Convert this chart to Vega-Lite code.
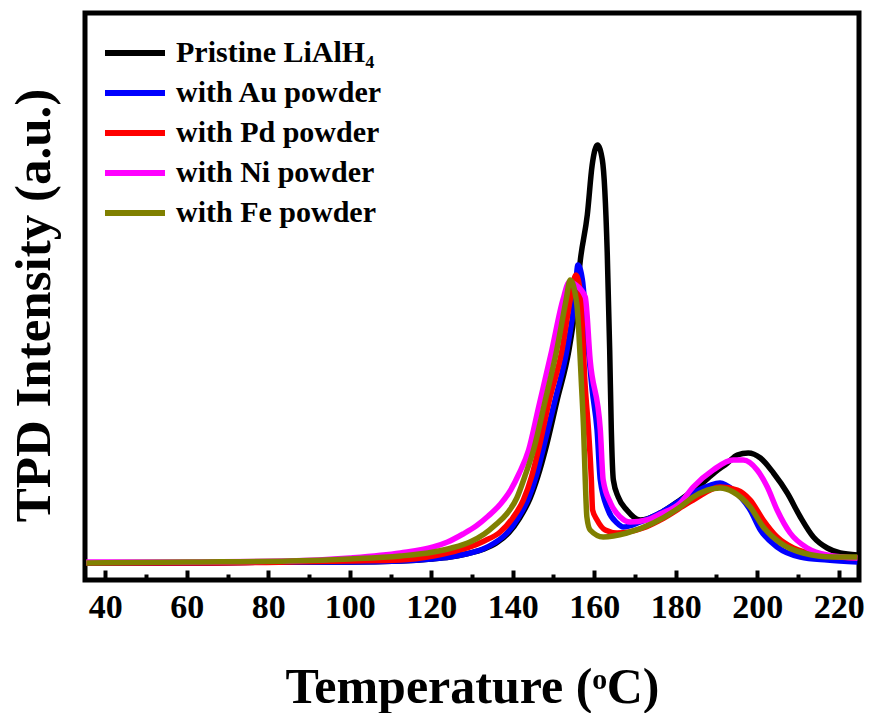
{
  "$schema": "https://vega.github.io/schema/vega-lite/v6.json",
  "width": 774,
  "height": 567,
  "autosize": {"type": "none"},
  "padding": {"left": 85, "top": 13, "right": 11, "bottom": 133},
  "background": "white",
  "config": {"view": {"stroke": "black", "strokeWidth": 5}, "font": "Liberation Serif"},
  "datasets": {
    "d": [
      {"s": "Pristine LiAlH₄", "T": 35.3, "I": 17}, {"s": "Pristine LiAlH₄", "T": 60, "I": 17}, {"s": "Pristine LiAlH₄", "T": 85, "I": 18}, {"s": "Pristine LiAlH₄", "T": 100, "I": 18}, {"s": "Pristine LiAlH₄", "T": 112.4, "I": 19}, {"s": "Pristine LiAlH₄", "T": 120, "I": 21}, {"s": "Pristine LiAlH₄", "T": 124.6, "I": 23}, {"s": "Pristine LiAlH₄", "T": 128.5, "I": 26}, {"s": "Pristine LiAlH₄", "T": 133, "I": 31}, {"s": "Pristine LiAlH₄", "T": 136, "I": 37}, {"s": "Pristine LiAlH₄", "T": 139, "I": 47}, {"s": "Pristine LiAlH₄", "T": 141.7, "I": 62}, {"s": "Pristine LiAlH₄", "T": 144.3, "I": 82}, {"s": "Pristine LiAlH₄", "T": 146.2, "I": 104}, {"s": "Pristine LiAlH₄", "T": 148, "I": 130}, {"s": "Pristine LiAlH₄", "T": 150.9, "I": 180}, {"s": "Pristine LiAlH₄", "T": 153.8, "I": 230}, {"s": "Pristine LiAlH₄", "T": 155.6, "I": 280}, {"s": "Pristine LiAlH₄", "T": 156.6, "I": 320}, {"s": "Pristine LiAlH₄", "T": 158.3, "I": 365}, {"s": "Pristine LiAlH₄", "T": 159.5, "I": 415}, {"s": "Pristine LiAlH₄", "T": 160.8, "I": 435}, {"s": "Pristine LiAlH₄", "T": 162.0, "I": 420}, {"s": "Pristine LiAlH₄", "T": 163.2, "I": 327}, {"s": "Pristine LiAlH₄", "T": 163.8, "I": 230}, {"s": "Pristine LiAlH₄", "T": 164.2, "I": 150}, {"s": "Pristine LiAlH₄", "T": 164.7, "I": 100}, {"s": "Pristine LiAlH₄", "T": 165.9, "I": 83}, {"s": "Pristine LiAlH₄", "T": 168.0, "I": 70}, {"s": "Pristine LiAlH₄", "T": 171.3, "I": 60}, {"s": "Pristine LiAlH₄", "T": 176.2, "I": 67}, {"s": "Pristine LiAlH₄", "T": 181.1, "I": 80}, {"s": "Pristine LiAlH₄", "T": 186.0, "I": 95}, {"s": "Pristine LiAlH₄", "T": 189.7, "I": 108}, {"s": "Pristine LiAlH₄", "T": 192.7, "I": 117}, {"s": "Pristine LiAlH₄", "T": 195.1, "I": 125}, {"s": "Pristine LiAlH₄", "T": 197.8, "I": 127}, {"s": "Pristine LiAlH₄", "T": 200.8, "I": 122}, {"s": "Pristine LiAlH₄", "T": 204.0, "I": 107}, {"s": "Pristine LiAlH₄", "T": 207.4, "I": 87}, {"s": "Pristine LiAlH₄", "T": 210.6, "I": 63}, {"s": "Pristine LiAlH₄", "T": 213.8, "I": 43}, {"s": "Pristine LiAlH₄", "T": 217.2, "I": 32}, {"s": "Pristine LiAlH₄", "T": 220.4, "I": 27}, {"s": "Pristine LiAlH₄", "T": 224.6, "I": 25},

      {"s": "with Au powder", "T": 35.3, "I": 17}, {"s": "with Au powder", "T": 60, "I": 17}, {"s": "with Au powder", "T": 85, "I": 18}, {"s": "with Au powder", "T": 100, "I": 18}, {"s": "with Au powder", "T": 112.4, "I": 19}, {"s": "with Au powder", "T": 120, "I": 21}, {"s": "with Au powder", "T": 124.6, "I": 23}, {"s": "with Au powder", "T": 128.5, "I": 26}, {"s": "with Au powder", "T": 132.7, "I": 31}, {"s": "with Au powder", "T": 135.5, "I": 37}, {"s": "with Au powder", "T": 138.6, "I": 47}, {"s": "with Au powder", "T": 141.3, "I": 62}, {"s": "with Au powder", "T": 143.9, "I": 82}, {"s": "with Au powder", "T": 145.7, "I": 103}, {"s": "with Au powder", "T": 147.4, "I": 130}, {"s": "with Au powder", "T": 150.4, "I": 180}, {"s": "with Au powder", "T": 153.3, "I": 230}, {"s": "with Au powder", "T": 155.2, "I": 280}, {"s": "with Au powder", "T": 156.0, "I": 315}, {"s": "with Au powder", "T": 157.1, "I": 300}, {"s": "with Au powder", "T": 158.3, "I": 243}, {"s": "with Au powder", "T": 159.5, "I": 190}, {"s": "with Au powder", "T": 160.7, "I": 150}, {"s": "with Au powder", "T": 161.5, "I": 100}, {"s": "with Au powder", "T": 163.4, "I": 70}, {"s": "with Au powder", "T": 165.6, "I": 57}, {"s": "with Au powder", "T": 167.1, "I": 53}, {"s": "with Au powder", "T": 171.3, "I": 58}, {"s": "with Au powder", "T": 176.2, "I": 67}, {"s": "with Au powder", "T": 184.3, "I": 87}, {"s": "with Au powder", "T": 190.9, "I": 97}, {"s": "with Au powder", "T": 194.1, "I": 90}, {"s": "with Au powder", "T": 198.3, "I": 70}, {"s": "with Au powder", "T": 200.8, "I": 50}, {"s": "with Au powder", "T": 204.9, "I": 33}, {"s": "with Au powder", "T": 210.6, "I": 23}, {"s": "with Au powder", "T": 217.2, "I": 20}, {"s": "with Au powder", "T": 224.6, "I": 18},

      {"s": "with Pd powder", "T": 35.3, "I": 17}, {"s": "with Pd powder", "T": 60, "I": 17}, {"s": "with Pd powder", "T": 85, "I": 18}, {"s": "with Pd powder", "T": 100, "I": 19}, {"s": "with Pd powder", "T": 112.4, "I": 20}, {"s": "with Pd powder", "T": 120.5, "I": 24}, {"s": "with Pd powder", "T": 125, "I": 28}, {"s": "with Pd powder", "T": 129.5, "I": 33}, {"s": "with Pd powder", "T": 133, "I": 39}, {"s": "with Pd powder", "T": 136.9, "I": 48}, {"s": "with Pd powder", "T": 140, "I": 62}, {"s": "with Pd powder", "T": 142.6, "I": 80}, {"s": "with Pd powder", "T": 144.6, "I": 103}, {"s": "with Pd powder", "T": 146.3, "I": 130}, {"s": "with Pd powder", "T": 149.0, "I": 180}, {"s": "with Pd powder", "T": 152.1, "I": 230}, {"s": "with Pd powder", "T": 154.1, "I": 280}, {"s": "with Pd powder", "T": 155.5, "I": 305}, {"s": "with Pd powder", "T": 156.6, "I": 287}, {"s": "with Pd powder", "T": 157.8, "I": 193}, {"s": "with Pd powder", "T": 158.6, "I": 150}, {"s": "with Pd powder", "T": 159.3, "I": 100}, {"s": "with Pd powder", "T": 159.6, "I": 70}, {"s": "with Pd powder", "T": 160.7, "I": 60}, {"s": "with Pd powder", "T": 162.7, "I": 50}, {"s": "with Pd powder", "T": 165.6, "I": 47}, {"s": "with Pd powder", "T": 172.0, "I": 52}, {"s": "with Pd powder", "T": 176.2, "I": 60}, {"s": "with Pd powder", "T": 184.3, "I": 80}, {"s": "with Pd powder", "T": 190.9, "I": 93}, {"s": "with Pd powder", "T": 195.1, "I": 90}, {"s": "with Pd powder", "T": 198.3, "I": 80}, {"s": "with Pd powder", "T": 201.5, "I": 60}, {"s": "with Pd powder", "T": 204.9, "I": 43}, {"s": "with Pd powder", "T": 208.9, "I": 32}, {"s": "with Pd powder", "T": 215.5, "I": 25}, {"s": "with Pd powder", "T": 224.6, "I": 22},

      {"s": "with Ni powder", "T": 35.3, "I": 18}, {"s": "with Ni powder", "T": 60, "I": 18}, {"s": "with Ni powder", "T": 85, "I": 19}, {"s": "with Ni powder", "T": 100, "I": 22}, {"s": "with Ni powder", "T": 112.4, "I": 27}, {"s": "with Ni powder", "T": 120.5, "I": 33}, {"s": "with Ni powder", "T": 124, "I": 38}, {"s": "with Ni powder", "T": 127.8, "I": 46}, {"s": "with Ni powder", "T": 131, "I": 54}, {"s": "with Ni powder", "T": 134, "I": 64}, {"s": "with Ni powder", "T": 137, "I": 76}, {"s": "with Ni powder", "T": 139.5, "I": 90}, {"s": "with Ni powder", "T": 141.5, "I": 106}, {"s": "with Ni powder", "T": 143.9, "I": 130}, {"s": "with Ni powder", "T": 146.3, "I": 172}, {"s": "with Ni powder", "T": 149.6, "I": 230}, {"s": "with Ni powder", "T": 152.3, "I": 280}, {"s": "with Ni powder", "T": 153.9, "I": 298}, {"s": "with Ni powder", "T": 155.5, "I": 295}, {"s": "with Ni powder", "T": 157.8, "I": 283}, {"s": "with Ni powder", "T": 159.0, "I": 220}, {"s": "with Ni powder", "T": 161.5, "I": 150}, {"s": "with Ni powder", "T": 162.2, "I": 100}, {"s": "with Ni powder", "T": 164.0, "I": 77}, {"s": "with Ni powder", "T": 166.4, "I": 63}, {"s": "with Ni powder", "T": 168.8, "I": 58}, {"s": "with Ni powder", "T": 172.9, "I": 60}, {"s": "with Ni powder", "T": 176.2, "I": 66}, {"s": "with Ni powder", "T": 181.1, "I": 77}, {"s": "with Ni powder", "T": 184.3, "I": 93}, {"s": "with Ni powder", "T": 189.2, "I": 110}, {"s": "with Ni powder", "T": 194.1, "I": 120}, {"s": "with Ni powder", "T": 196.6, "I": 120}, {"s": "with Ni powder", "T": 200.0, "I": 110}, {"s": "with Ni powder", "T": 202.5, "I": 93}, {"s": "with Ni powder", "T": 204.9, "I": 70}, {"s": "with Ni powder", "T": 208.1, "I": 47}, {"s": "with Ni powder", "T": 212.3, "I": 32}, {"s": "with Ni powder", "T": 217.2, "I": 25}, {"s": "with Ni powder", "T": 224.6, "I": 22},

      {"s": "with Fe powder", "T": 35.3, "I": 17}, {"s": "with Fe powder", "T": 60, "I": 18}, {"s": "with Fe powder", "T": 85, "I": 19}, {"s": "with Fe powder", "T": 100, "I": 21}, {"s": "with Fe powder", "T": 112.4, "I": 24}, {"s": "with Fe powder", "T": 120.5, "I": 28}, {"s": "with Fe powder", "T": 125, "I": 32}, {"s": "with Fe powder", "T": 129.5, "I": 38}, {"s": "with Fe powder", "T": 133, "I": 46}, {"s": "with Fe powder", "T": 136, "I": 56}, {"s": "with Fe powder", "T": 138.5, "I": 66}, {"s": "with Fe powder", "T": 141.0, "I": 82}, {"s": "with Fe powder", "T": 143.0, "I": 104}, {"s": "with Fe powder", "T": 145.1, "I": 130}, {"s": "with Fe powder", "T": 148.0, "I": 180}, {"s": "with Fe powder", "T": 150.8, "I": 230}, {"s": "with Fe powder", "T": 153.1, "I": 280}, {"s": "with Fe powder", "T": 154.1, "I": 300}, {"s": "with Fe powder", "T": 155.7, "I": 277}, {"s": "with Fe powder", "T": 156.9, "I": 193}, {"s": "with Fe powder", "T": 157.4, "I": 150}, {"s": "with Fe powder", "T": 157.8, "I": 100}, {"s": "with Fe powder", "T": 158.2, "I": 63}, {"s": "with Fe powder", "T": 159.0, "I": 50}, {"s": "with Fe powder", "T": 162.2, "I": 43}, {"s": "with Fe powder", "T": 168.0, "I": 47}, {"s": "with Fe powder", "T": 174.5, "I": 57}, {"s": "with Fe powder", "T": 181.1, "I": 73}, {"s": "with Fe powder", "T": 184.3, "I": 83}, {"s": "with Fe powder", "T": 190.9, "I": 92}, {"s": "with Fe powder", "T": 194.1, "I": 88}, {"s": "with Fe powder", "T": 198.3, "I": 73}, {"s": "with Fe powder", "T": 201.5, "I": 53}, {"s": "with Fe powder", "T": 205.7, "I": 37}, {"s": "with Fe powder", "T": 211.3, "I": 27}, {"s": "with Fe powder", "T": 218.7, "I": 23}, {"s": "with Fe powder", "T": 224.6, "I": 23}
    ]
  },
  "data": {"name": "d"},
  "layer": [
    {
      "mark": {"type": "line", "strokeWidth": 5.5, "interpolate": "monotone", "clip": true},
      "encoding": {
        "x": {
          "field": "T", "type": "quantitative",
          "scale": {"domain": [35, 225], "nice": false, "zero": false},
          "axis": {
            "orient": "bottom", "zindex": 1, "ticks": true,
            "values": [40, 60, 80, 100, 120, 140, 160, 180, 200, 220],
            "tickSize": -10, "tickWidth": 4, "tickColor": "black",
            "domain": false, "grid": false,
            "labelFont": "Liberation Serif", "labelFontWeight": "bold", "labelFontSize": 34, "labelColor": "black",
            "labelPadding": 20, "labelFlush": false, "labelOverlap": false,
            "title": "Temperature (ᵒC)", "titleFont": "Liberation Serif", "titleFontSize": 50, "titleFontWeight": "bold", "titleColor": "black",
            "titleBaseline": "alphabetic", "titleY": 122, "titleX": 387, "titleAlign": "center"
          }
        },
        "y": {
          "field": "I", "type": "quantitative",
          "scale": {"domain": [0, 567], "nice": false, "zero": true},
          "axis": {
            "labels": false, "ticks": false, "domain": false, "grid": false,
            "title": "TPD Intensity (a.u.)", "titleFont": "Liberation Serif", "titleFontSize": 51, "titleFontWeight": "bold", "titleColor": "black",
            "titleAngle": -90, "titleBaseline": "alphabetic", "titleAlign": "center", "titleX": -36, "titleY": 292
          }
        },
        "color": {
          "field": "s", "type": "nominal",
          "scale": {"domain": ["Pristine LiAlH₄", "with Au powder", "with Pd powder", "with Ni powder", "with Fe powder"], "range": ["#000000", "#0000ff", "#ff0000", "#ff00ff", "#808000"]},
          "legend": {
            "orient": "none", "legendX": 15, "legendY": 25, "title": null, "padding": 0,
            "symbolType": "M-1,0H5", "symbolSize": 400, "symbolStrokeWidth": 6,
            "labelFont": "Liberation Serif", "labelFontWeight": "bold", "labelFontSize": 30, "labelColor": "black",
            "labelOffset": 46, "rowPadding": 10, "labelLimit": 400
          }
        }
      }
    },
    {
      "mark": {"type": "line", "opacity": 0, "clip": true},
      "encoding": {
        "x": {
          "field": "T", "type": "quantitative",
          "axis": {
            "orient": "bottom", "zindex": 1, "ticks": true,
            "values": [50, 70, 90, 110, 130, 150, 170, 190, 210],
            "tickSize": -6, "tickWidth": 4, "tickColor": "black",
            "labels": false, "domain": false, "grid": false, "title": null
          }
        },
        "y": {"field": "I", "type": "quantitative"}
      }
    }
  ],
  "resolve": {"axis": {"x": "independent"}}
}
